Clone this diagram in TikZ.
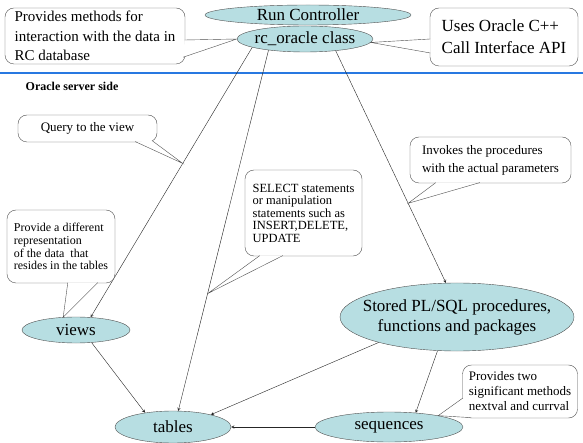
\documentclass[tikz,border=0pt]{standalone}
\usepackage{fontspec}
\setmainfont{Liberation Serif}
\usetikzlibrary{shapes.geometric,arrows,calc}

\definecolor{entityfill}{RGB}{183,222,226}
\definecolor{entityline}{RGB}{80,80,80}
\definecolor{sepblue}{RGB}{40,120,225}

\begin{document}
\begin{tikzpicture}
  [x=1pt,y=-1pt,every node/.style={inner sep=0pt}]

  \tikzstyle{entity} = [ellipse, draw=entityline, fill=entityfill, align=center,
                        font=\fontsize{17}{20}\selectfont]
  \tikzstyle{note}   = [draw=entityline, fill=white, rounded corners=9pt, align=left]
  \tikzstyle{tail}   = [draw=entityline, fill=white]

  \path[use as bounding box, fill=white] (0,0) rectangle (583,443);

  \draw[sepblue, line width=1.6pt] (0,73) -- (583,73);
  \node[font=\fontsize{12}{14}\selectfont\bfseries] (side) at (72,86) {Oracle server side};

  \node[entity, minimum width=206pt, minimum height=20pt] (run)    at (308,15)  {Run Controller};
  \node[entity, minimum width=136pt, minimum height=26pt,
        inner xsep=-9pt]                                  (rc)     at (305,39)  {rc\_oracle class};
  \node[entity, minimum width=108pt, minimum height=26pt] (views)  at (76,330)  {views};
  \node[entity, minimum width=234pt, minimum height=68pt,
        inner xsep=-16pt]                                 (stored) at (457,317) {Stored PL/SQL procedures,\\functions and packages};
  \node[entity, minimum width=116pt, minimum height=32pt] (tables) at (173,427) {tables};
  \node[entity, minimum width=148pt, minimum height=30pt] (seq)    at (389,427) {sequences};

  \path[->, >=stealth, black!85]
        (rc.189)     edge (views.41)
        (rc.197)     edge (tables.72)
        (rc.339)     edge (stored.108)
        (views.321)  edge (tables.153)
        (stored.198) edge (tables.18)
        (stored.240) edge (seq.28)
        (seq)        edge (tables);

  \node[note, minimum width=180pt, minimum height=56pt, font=\fontsize{15}{19.5}\selectfont] (n1) at (95,36)
       {Provides methods for\\interaction with the data in\\RC database};
  \node[note, minimum width=148pt, minimum height=58pt, font=\fontsize{17}{22}\selectfont] (n2) at (504,37)
       {Uses Oracle C++\\Call Interface API};
  \node[note, minimum width=139pt, minimum height=27pt, font=\fontsize{13}{15}\selectfont] (n3) at (87.5,128.5)
       {Query to the view};
  \node[note, minimum width=117pt, minimum height=86pt, font=\fontsize{12.5}{12.5}\selectfont] (n4) at (303.5,213)
       {SELECT statements\\or manipulation\\statements such as\\INSERT,DELETE,\\UPDATE};
  \node[note, minimum width=161pt, minimum height=46pt, font=\fontsize{13}{18}\selectfont] (n5) at (490.5,160)
       {Invokes the procedures\\with the actual parameters};
  \node[note, minimum width=108pt, minimum height=73pt, font=\fontsize{12}{12.7}\selectfont] (n6) at (61,246.5)
       {Provide a different\\representation\\of the data \ that\\resides in the tables};
  \node[note, minimum width=115pt, minimum height=53pt, font=\fontsize{13}{15}\selectfont] (n7) at (520,391.5)
       {Provides two\\significant methods\\nextval and currval};

  \draw[tail] ($(n1.east)+(-0.6,4)$) -- (rc.180) -- ($(n1.south east)+(-2,-7)$);
  \draw[tail] ($(n2.west)+(0.6,2)$) -- (rc.357) -- ($(n2.west)+(0.6,16)$);
  \draw[tail] ($(n3.south east)+(-22,-0.6)$) -- ($(rc.189)!0.43!(views.41)$) -- ($(n3.south east)+(-5,-1.5)$);
  \draw[tail] ($(n4.south west)+(15,-0.6)$) -- ($(rc.197)!0.675!(tables.72)$) -- ($(n4.south west)+(38,-0.6)$);
  \draw[tail] ($(n5.south west)+(26,-0.6)$) -- ($(rc.339)!0.657!(stored.108)$) -- ($(n5.south west)+(70,-0.6)$);
  \draw[tail] ($(n6.south west)+(61,-0.6)$) -- (views.135) -- ($(n6.south west)+(91,-0.6)$);
  \draw[tail] ($(n7.west)+(0.6,6.5)$) -- (seq.13) -- ($(n7.south west)+(8,-0.6)$);
\end{tikzpicture}
\end{document}
